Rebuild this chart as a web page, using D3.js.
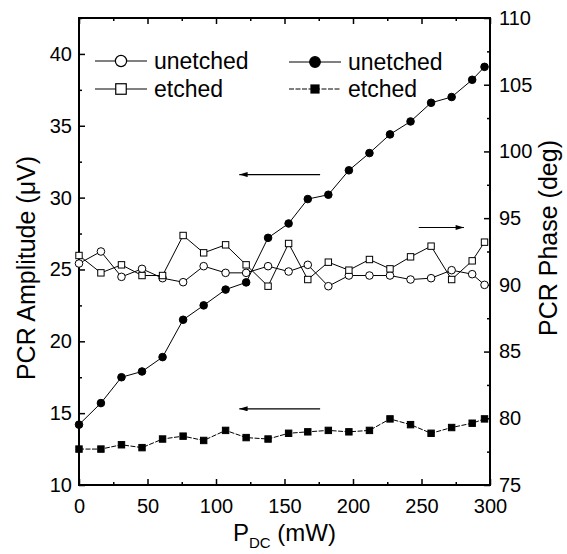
<!DOCTYPE html>
<html>
<head>
<meta charset="utf-8">
<script src="https://cdn.jsdelivr.net/npm/d3@7"></script>
<style>
  body { margin: 0; background: #fff; }
  svg { font-family: "Liberation Sans", Arial, sans-serif; }
  .tick text { font-size: 20px; fill: #000; }
</style>
</head>
<body>
<svg id="chart" width="567" height="554"></svg>
<script>
// P_DC (mW)
const power = [0, 16, 31, 46, 61, 76, 91, 107, 122, 138, 153, 167, 182, 197, 212, 227, 242, 257, 272, 287, 296];

// amplitude (uV), left axis
const ampUnetched = [14.2, 15.7, 17.5, 17.9, 18.9, 21.5, 22.5, 23.6, 24.1, 27.2, 28.2, 29.9, 30.2, 31.9, 33.1, 34.4, 35.3, 36.6, 37.0, 38.2, 39.1];
const ampEtched = [12.5, 12.5, 12.8, 12.6, 13.2, 13.4, 13.1, 13.8, 13.3, 13.2, 13.6, 13.7, 13.8, 13.7, 13.8, 14.6, 14.2, 13.6, 14.0, 14.3, 14.6];

// phase (deg), right axis
const phaseUnetched = [91.6, 92.5, 90.6, 91.2, 90.5, 90.2, 91.4, 90.9, 90.9, 91.4, 91.0, 91.5, 89.9, 90.7, 90.7, 90.7, 90.4, 90.5, 91.1, 90.8, 90.0];
const phaseEtched = [92.2, 90.9, 91.5, 90.7, 90.7, 93.7, 92.4, 93.0, 91.5, 89.9, 93.1, 90.4, 91.7, 91.1, 91.9, 91.2, 92.1, 92.9, 90.4, 91.8, 93.2];

const xTicks = [0, 50, 100, 150, 200, 250, 300];
const xMinor = [25, 75, 125, 175, 225, 275];
const yLeftTicks = [10, 15, 20, 25, 30, 35, 40];
const yLeftMinor = [12.5, 17.5, 22.5, 27.5, 32.5, 37.5, 42.5];
const yRightTicks = [75, 80, 85, 90, 95, 100, 105, 110];
const yRightMinor = [77.5, 82.5, 87.5, 92.5, 97.5, 102.5, 107.5];

// arrows: [x from, x to, y value, which axis]
const arrows = [
   { x1: 176, x2: 117, y: 31.6, axis: "left" },
   { x1: 176, x2: 117, y: 15.3, axis: "left" },
   { x1: 248, x2: 281, y: 94.3, axis: "right" },
];

const margin = { top: 18, right: 77, bottom: 69, left: 79 };
const width = 567, height = 554;

const svg = d3.select("#chart");

const x = d3.scaleLinear().domain([0, 300]).range([margin.left, width - margin.right]);
const yL = d3.scaleLinear().domain([10, 42.5]).range([height - margin.bottom, margin.top]);
const yR = d3.scaleLinear().domain([75, 110]).range([height - margin.bottom, margin.top]);

svg.append("defs").append("marker")
   .attr("id", "head")
   .attr("viewBox", "0 0 10 6")
   .attr("refX", 10).attr("refY", 3)
   .attr("markerWidth", 10).attr("markerHeight", 5)
   .attr("markerUnits", "userSpaceOnUse")
   .attr("orient", "auto")
   .append("path")
   .attr("d", "M0,0L10,3L0,6Z")
   .attr("fill", "#000");

// axes, ticks point inward
function addAxis(axis, transform) {
   const g = svg.append("g").attr("transform", transform).call(axis);
   g.select(".domain").remove();
   g.selectAll(".tick line").attr("stroke", "#000").attr("stroke-width", 1.5);
   return g;
}

const atBottom = `translate(0,${height - margin.bottom})`;
const atTop = `translate(0,${margin.top})`;
const atLeft = `translate(${margin.left},0)`;
const atRight = `translate(${width - margin.right},0)`;

addAxis(d3.axisBottom(x).tickValues(xTicks).tickSize(-6).tickPadding(14).tickFormat(d3.format("d")), atBottom);
addAxis(d3.axisBottom(x).tickValues(xMinor).tickSize(-3).tickFormat(""), atBottom);
addAxis(d3.axisTop(x).tickValues(xTicks).tickSize(-6).tickFormat(""), atTop);
addAxis(d3.axisTop(x).tickValues(xMinor).tickSize(-3).tickFormat(""), atTop);

addAxis(d3.axisLeft(yL).tickValues(yLeftTicks).tickSize(-6).tickPadding(7).tickFormat(d3.format("d")), atLeft);
addAxis(d3.axisLeft(yL).tickValues(yLeftMinor).tickSize(-3).tickFormat(""), atLeft);
addAxis(d3.axisRight(yR).tickValues(yRightTicks).tickSize(-6).tickPadding(9).tickFormat(d3.format("d")), atRight);
addAxis(d3.axisRight(yR).tickValues(yRightMinor).tickSize(-3).tickFormat(""), atRight);

svg.append("rect")
   .attr("x", margin.left).attr("y", margin.top)
   .attr("width", width - margin.left - margin.right)
   .attr("height", height - margin.top - margin.bottom)
   .attr("fill", "none").attr("stroke", "#000").attr("stroke-width", 2);

// series
const series = [
   { values: ampUnetched, y: yL, shape: "circle", fill: "#000", dash: null },
   { values: ampEtched, y: yL, shape: "square", fill: "#000", dash: "5,1.5" },
   { values: phaseUnetched, y: yR, shape: "circle", fill: "#fff", dash: null },
   { values: phaseEtched, y: yR, shape: "square", fill: "#fff", dash: null },
];

const plot = svg.append("g");

series.forEach(s => {
   const pts = power.map((p, i) => [p, s.values[i]]);
   plot.append("path")
      .datum(pts)
      .attr("fill", "none")
      .attr("stroke", "#000")
      .attr("stroke-width", 1)
      .attr("stroke-dasharray", s.dash)
      .attr("d", d3.line().x(d => x(d[0])).y(d => s.y(d[1])));
});

series.forEach(s => {
   const pts = power.map((p, i) => [p, s.values[i]]);
   const g = plot.append("g");
   if (s.shape === "circle") {
      g.selectAll("circle").data(pts).join("circle")
         .attr("cx", d => x(d[0]))
         .attr("cy", d => s.y(d[1]))
         .attr("r", 3.8)
         .attr("fill", s.fill)
         .attr("stroke", "#000")
         .attr("stroke-width", 1);
   } else {
      g.selectAll("rect").data(pts).join("rect")
         .attr("x", d => x(d[0]) - 3.2)
         .attr("y", d => s.y(d[1]) - 3.2)
         .attr("width", 6.4).attr("height", 6.4)
         .attr("fill", s.fill)
         .attr("stroke", "#000")
         .attr("stroke-width", 1);
   }
});

// arrows
arrows.forEach(a => {
   const ys = a.axis === "left" ? yL : yR;
   svg.append("line")
      .attr("x1", x(a.x1)).attr("x2", x(a.x2))
      .attr("y1", ys(a.y)).attr("y2", ys(a.y))
      .attr("stroke", "#000").attr("stroke-width", 1.2)
      .attr("marker-end", "url(#head)");
});

// legend
const legend = [
   { label: "unetched", x0: 95, y0: 61, shape: "circle", fill: "#fff", dash: null },
   { label: "etched", x0: 95, y0: 89, shape: "square", fill: "#fff", dash: null },
   { label: "unetched", x0: 289, y0: 62, shape: "circle", fill: "#000", dash: null },
   { label: "etched", x0: 289, y0: 89, shape: "square", fill: "#000", dash: "5,1.5" },
];

legend.forEach(l => {
   const g = svg.append("g").attr("transform", `translate(${l.x0},${l.y0})`);
   g.append("line").attr("x1", 0).attr("x2", 52).attr("y1", 0).attr("y2", 0)
      .attr("stroke", "#000").attr("stroke-width", 1).attr("stroke-dasharray", l.dash);
   if (l.shape === "circle") {
      g.append("circle").attr("cx", 26).attr("cy", 0).attr("r", l.fill === "#000" ? 5.3 : 5.6)
         .attr("fill", l.fill).attr("stroke", "#000").attr("stroke-width", 1.2);
   } else {
      const s = l.fill === "#000" ? 8 : 10.5;
      g.append("rect").attr("x", 26 - s / 2).attr("y", -s / 2).attr("width", s).attr("height", s)
         .attr("fill", l.fill).attr("stroke", "#000").attr("stroke-width", 1.2);
   }
   g.append("text").attr("x", 59).attr("y", 8)
      .attr("font-size", 23).text(l.label);
});

// axis titles, both read bottom to top
svg.append("text")
   .attr("transform", "translate(35,268) rotate(-90)")
   .attr("text-anchor", "middle")
   .attr("font-size", 25)
   .text("PCR Amplitude (\u03bcV)");

svg.append("text")
   .attr("transform", "translate(557,238) rotate(-90)")
   .attr("text-anchor", "middle")
   .attr("font-size", 25)
   .text("PCR Phase (deg)");

const xt = svg.append("text")
   .attr("x", (margin.left + width - margin.right) / 2)
   .attr("y", 541)
   .attr("text-anchor", "middle")
   .attr("font-size", 24);
xt.append("tspan").text("P");
xt.append("tspan").attr("font-size", 15).attr("dy", 7).text("DC");
xt.append("tspan").attr("dy", -7).text(" (mW)");
</script>
</body>
</html>
